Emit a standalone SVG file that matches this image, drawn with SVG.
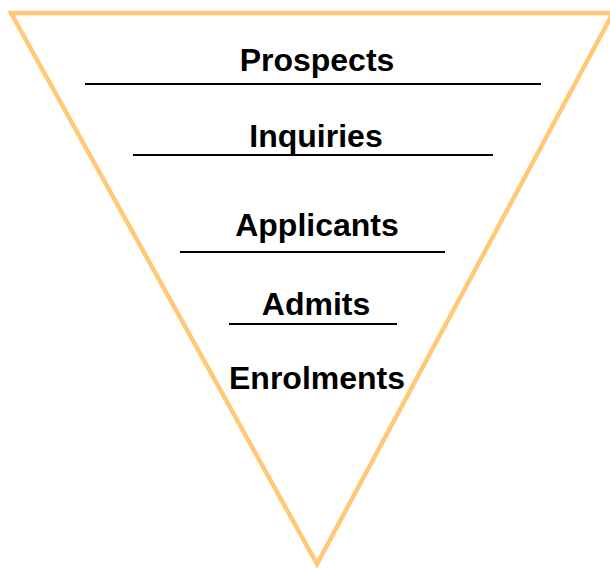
<svg xmlns="http://www.w3.org/2000/svg" width="610" height="568" viewBox="0 0 610 568">
<style>
.lbl{font-family:"Liberation Sans",Arial,sans-serif;font-weight:bold;font-size:32px;fill:#000;text-anchor:middle}
.rule{stroke:#000;stroke-width:2}
</style>
<rect width="610" height="568" fill="#fff"/>
<g id="funnel">
<polygon points="11,13 613,13 317,564" fill="none" stroke="#FFC977" stroke-width="4.5" stroke-linejoin="miter"/>
</g>
<g id="connectors">
<line class="rule" x1="85" y1="84" x2="541" y2="84"/>
<line class="rule" x1="133" y1="155" x2="493" y2="155"/>
<line class="rule" x1="180" y1="252" x2="445" y2="252"/>
<line class="rule" x1="229" y1="324" x2="397" y2="324"/>
</g>
<g id="prospects"><text class="lbl" x="317" y="71">Prospects</text></g>
<g id="inquiries"><text class="lbl" x="316" y="147">Inquiries</text></g>
<g id="applicants"><text class="lbl" x="317" y="236">Applicants</text></g>
<g id="admits"><text class="lbl" x="316" y="315">Admits</text></g>
<g id="enrolments"><text class="lbl" x="317" y="389">Enrolments</text></g>
</svg>
